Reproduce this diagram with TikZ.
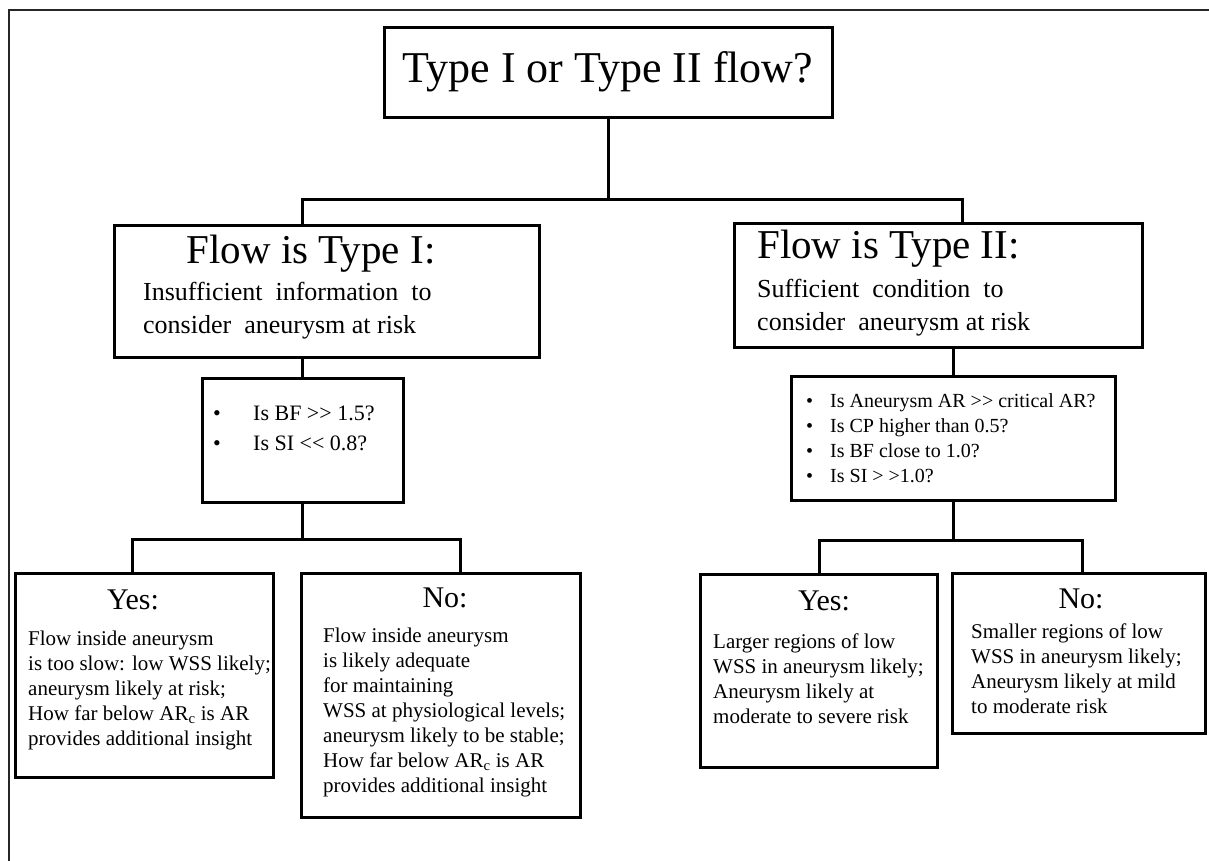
\documentclass[tikz,border=0pt]{standalone}
\usepackage{fontspec}
\setmainfont{Liberation Serif}

\begin{document}
\begin{tikzpicture}[x=1pt,y=-1pt,
  box/.style={draw, line width=3pt, inner sep=0pt, outer sep=0pt, anchor=north west},
  conn/.style={line width=3pt},
  head/.style={inner sep=0pt, anchor=base, font=\fontsize{30}{36}\selectfont},
  body/.style={inner sep=0pt, anchor=base west, font=\fontsize{21}{25}\selectfont}]
  \useasboundingbox (0,0) rectangle (1209,860);
  \draw[line width=1.3pt, black!85] (9,870) -- (9,10) -- (1212,10);

  % question at the top
  \node[box, minimum width=448pt, minimum height=90pt, font=\fontsize{44}{50}\selectfont] (top) at (384,27) {Type I or Type II flow?};

  % the two flow types
  \node[box, minimum width=425pt, minimum height=132pt] (t1) at (114,225) {};
  \node[head, font=\fontsize{41}{48}\selectfont] (t1head) at (311,263) {Flow is Type I:};
  \node[body, font=\fontsize{26}{33}\selectfont] (t1body) at (143,300)
    {\begin{tabular}[t]{@{}l@{}}Insufficient~~information~~to\\ consider~~aneurysm at risk\end{tabular}};

  \node[box, minimum width=408pt, minimum height=124pt] (t2) at (734,223) {};
  \node[head, anchor=base west, font=\fontsize{41}{48}\selectfont] (t2head) at (757,258) {Flow is Type II:};
  \node[body, font=\fontsize{26}{33}\selectfont] (t2body) at (757,297)
    {\begin{tabular}[t]{@{}l@{}}Sufficient~~condition~~to\\ consider~~aneurysm at risk\end{tabular}};

  % questions
  \node[box, minimum width=201pt, minimum height=124pt] (q1) at (202,378) {};
  \node[body, font=\fontsize{22}{30}\selectfont] (q1txt) at (213,420)
    {\begin{tabular}[t]{@{}l@{}l@{}}\makebox[40pt][l]{\textbullet} & Is BF >{}> 1.5?\\
     \makebox[40pt][l]{\textbullet} & Is SI <{}< 0.8?\end{tabular}};

  \node[box, minimum width=324pt, minimum height=124pt] (q2) at (791,376) {};
  \node[body, font=\fontsize{20}{25}\selectfont] (q2txt) at (806,407)
    {\begin{tabular}[t]{@{}l@{}l@{}}\makebox[24pt][l]{\textbullet} & Is Aneurysm AR >{}> critical AR?\\
     \makebox[24pt][l]{\textbullet} & Is CP higher than 0.5?\\
     \makebox[24pt][l]{\textbullet} & Is BF close to 1.0?\\
     \makebox[24pt][l]{\textbullet} & Is SI > >1.0?\end{tabular}};

  % answers
  \node[box, minimum width=258pt, minimum height=204pt] (y1) at (15,573) {};
  \node[head] (y1head) at (133,609) {Yes:};
  \node[body] (y1body) at (28,645)
    {\begin{tabular}[t]{@{}l@{}}Flow inside aneurysm\\ is too slow: low WSS likely;\\
     aneurysm likely at risk;\\ How far below AR\textsubscript{c} is AR\\ provides additional insight\end{tabular}};

  \node[box, minimum width=279pt, minimum height=244pt] (n1) at (301,573) {};
  \node[head] (n1head) at (445,607) {No:};
  \node[body] (n1body) at (323,642)
    {\begin{tabular}[t]{@{}l@{}}Flow inside aneurysm\\ is likely adequate\\ for maintaining\\
     WSS at physiological levels;\\ aneurysm likely to be stable;\\
     How far below AR\textsubscript{c} is AR\\ provides additional insight\end{tabular}};

  \node[box, minimum width=237pt, minimum height=193pt] (y2) at (700,574) {};
  \node[head] (y2head) at (824,610) {Yes:};
  \node[body] (y2body) at (713,648)
    {\begin{tabular}[t]{@{}l@{}}Larger regions of low\\ WSS in aneurysm likely;\\
     Aneurysm likely at\\ moderate to severe risk\end{tabular}};

  \node[box, minimum width=253pt, minimum height=160pt] (n2) at (952,573) {};
  \node[head] (n2head) at (1081,608) {No:};
  \node[body] (n2body) at (971,638)
    {\begin{tabular}[t]{@{}l@{}}Smaller regions of low\\ WSS in aneurysm likely;\\
     Aneurysm likely at mild\\ to moderate risk\end{tabular}};

  % connectors
  \coordinate (j0) at (608,199);
  \coordinate (j1) at (302.5,539);
  \coordinate (j2) at (953,540);
  \draw[conn] (top.south) -- (j0);
  \draw[conn] ([xshift=188pt]t1.north west) |- (j0) -| ([xshift=228pt]t2.north west);
  \draw[conn] (t1.south -| q1.north) -- (q1.north);
  \draw[conn] (t2.south -| q2.north) -- (q2.north);
  \draw[conn] (q1.south) -- (j1);
  \draw[conn] ([xshift=117pt]y1.north west) |- (j1) -| ([xshift=159pt]n1.north west);
  \draw[conn] (q2.south) -- (j2);
  \draw[conn] ([xshift=119pt]y2.north west) |- (j2) -| ([xshift=130pt]n2.north west);
\end{tikzpicture}
\end{document}
